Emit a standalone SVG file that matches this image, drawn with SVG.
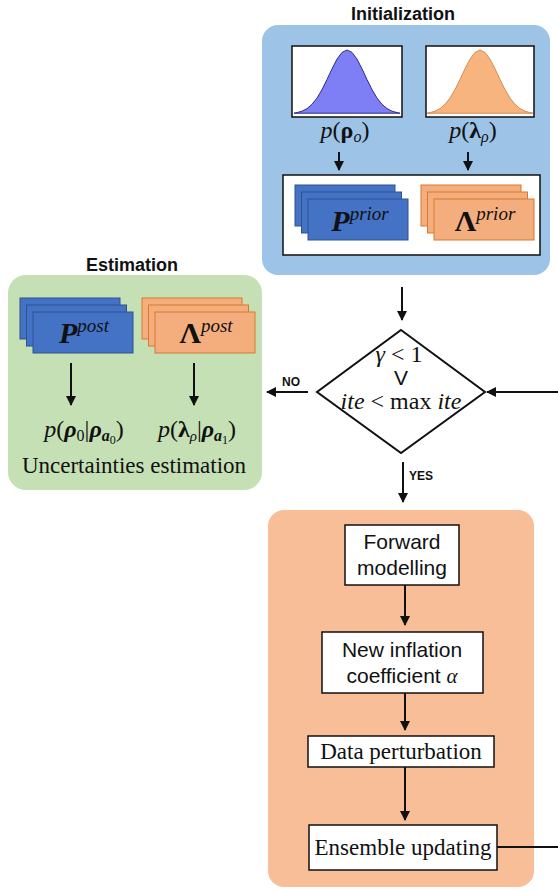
<svg xmlns="http://www.w3.org/2000/svg" width="558" height="891" viewBox="0 0 558 891">
<style>
.title{font-family:"Liberation Sans",Arial,sans-serif;font-weight:bold;font-size:18px;fill:#111;text-anchor:middle}
.lbl{font-family:"Liberation Sans",Arial,sans-serif;font-weight:bold;font-size:12px;fill:#111}
.sans{font-family:"Liberation Sans",Arial,sans-serif;font-size:21px;fill:#111;text-anchor:middle}
.serif{font-family:"Liberation Serif","Times New Roman",serif;font-size:23px;fill:#111;text-anchor:middle}
.math{font-family:"Liberation Serif","Times New Roman",serif;font-size:24px;fill:#111;text-anchor:middle}
.it{font-style:italic}
.bd{font-weight:bold}
.box{fill:#fff;stroke:#111;stroke-width:1.5}
.bcard{fill:#4472C4;stroke:#2F528F;stroke-width:1}
.ocard{fill:#F4AE7E;stroke:#D9782E;stroke-width:1}
.conn line,.conn polyline{stroke:#111;stroke-width:2;fill:none}
</style>
<defs>
<marker id="ah" viewBox="0 0 10 10" refX="9" refY="5" markerWidth="5" markerHeight="5" orient="auto" markerUnits="strokeWidth">
<path d="M0,0 L10,5 L0,10 Z" fill="#111"/>
</marker>
<path id="gauss" d="M-53,113.2 L-50,112.6 L-45,111.2 L-40,108.6 L-35,104.3 L-30,98.1 L-25,89.6 L-20,79.5 L-15,68.8 L-10,59.1 L-5,52.4 L0,50 L5,52.4 L10,59.1 L15,68.8 L20,79.5 L25,89.6 L30,98.1 L35,104.3 L40,108.6 L45,111.2 L50,112.6 L53,113.2 Z" stroke-linejoin="round"/>
<g id="stack-b">
<rect x="0" y="0" width="100" height="41" class="bcard"/>
<rect x="6.5" y="7" width="100" height="41" class="bcard"/>
<rect x="13" y="14" width="100" height="41" class="bcard"/>
</g>
<g id="stack-o">
<rect x="0" y="0" width="100" height="41" class="ocard"/>
<rect x="6.5" y="7" width="100" height="41" class="ocard"/>
<rect x="13" y="14" width="100" height="41" class="ocard"/>
</g>
</defs>

<g id="initialization">
<text class="title" x="403" y="20">Initialization</text>
<rect x="262" y="25" width="288" height="250" rx="16" fill="#9DC3E6"/>
<rect x="292" y="46" width="110" height="71" class="box"/>
<use href="#gauss" transform="translate(347,0)" fill="#7F7FF5" stroke="#2B2B8F" stroke-width="1"/>
<rect x="426" y="46" width="108" height="71" class="box"/>
<use href="#gauss" transform="translate(480,0)" fill="#F8B47F" stroke="#D98A4A" stroke-width="1"/>
<text class="math" x="345" y="138"><tspan class="it">p</tspan>(<tspan class="bd">ρ</tspan><tspan class="it" font-size="16" dy="4">o</tspan><tspan dy="-4">)</tspan></text>
<text class="math" x="473" y="138"><tspan class="it">p</tspan>(<tspan class="bd">λ</tspan><tspan class="it" font-size="16" dy="4">ρ</tspan><tspan dy="-4">)</tspan></text>
<line x1="339" y1="152" x2="339" y2="170" stroke="#111" stroke-width="2" marker-end="url(#ah)"/>
<line x1="468" y1="152" x2="468" y2="170" stroke="#111" stroke-width="2" marker-end="url(#ah)"/>
<rect x="283" y="175" width="257" height="80" class="box"/>
<use href="#stack-b" x="295" y="185"/>
<use href="#stack-o" x="421" y="185"/>
<text class="math" x="360" y="231"><tspan class="it bd" font-size="30">P</tspan><tspan class="it" font-size="19" dy="-11">prior</tspan></text>
<text class="math" x="485" y="231"><tspan class="bd" font-size="30">Λ</tspan><tspan class="it" font-size="19" dy="-11">prior</tspan></text>
</g>

<g id="estimation">
<text class="title" x="132" y="271">Estimation</text>
<rect x="8" y="275" width="254" height="215" rx="18" fill="#C5E0B4"/>
<use href="#stack-b" x="20" y="298"/>
<use href="#stack-o" x="142" y="298"/>
<text class="math" x="84" y="343"><tspan class="it bd" font-size="30">P</tspan><tspan class="it" font-size="19" dy="-11">post</tspan></text>
<text class="math" x="206" y="343"><tspan class="bd" font-size="30">Λ</tspan><tspan class="it" font-size="19" dy="-11">post</tspan></text>
<line x1="71" y1="363" x2="71" y2="405" stroke="#111" stroke-width="2" marker-end="url(#ah)"/>
<line x1="194" y1="363" x2="194" y2="405" stroke="#111" stroke-width="2" marker-end="url(#ah)"/>
<text class="math" x="84" y="437" font-size="23"><tspan class="it">p</tspan>(<tspan class="it bd">ρ</tspan><tspan font-size="16" dy="4">0</tspan><tspan dy="-4">|</tspan><tspan class="it bd">ρ</tspan><tspan class="it bd" font-size="16" dy="4">a</tspan><tspan font-size="12" dy="3">0</tspan><tspan dy="-7">)</tspan></text>
<text class="math" x="197" y="437" font-size="23"><tspan class="it">p</tspan>(<tspan class="bd">λ</tspan><tspan class="it" font-size="15" dy="4">ρ</tspan><tspan dy="-4">|</tspan><tspan class="it bd">ρ</tspan><tspan class="it bd" font-size="16" dy="4">a</tspan><tspan font-size="12" dy="3">1</tspan><tspan dy="-7">)</tspan></text>
<text class="serif" x="134" y="473">Uncertainties estimation</text>
</g>

<g id="decision">
<polygon points="401,330 485,392 401,453 317,392" fill="#fff" stroke="#111" stroke-width="2"/>
<text class="math" x="399" y="362" font-size="22"><tspan class="it">γ</tspan> &lt; 1</text>
<text class="sans" x="401" y="385" font-size="17">V</text>
<text class="math" x="401" y="409" font-size="22"><tspan class="it">ite</tspan> &lt; max <tspan class="it">ite</tspan></text>
</g>

<g id="loop">
<rect x="268" y="510" width="266" height="377" rx="16" fill="#F8BE97"/>
</g>
<g id="forward">
<rect x="345" y="525" width="114" height="60" class="box"/>
<text class="sans" x="402" y="549">Forward</text>
<text class="sans" x="402" y="575">modelling</text>
</g>
<g id="inflation">
<rect x="322" y="632" width="161" height="61" class="box"/>
<text class="sans" x="402" y="657">New inflation</text>
<text class="sans" x="402" y="683">coefficient <tspan font-family="Liberation Serif,serif" font-style="italic">α</tspan></text>
</g>
<g id="perturbation">
<rect x="308" y="736" width="186" height="31" class="box"/>
<text class="serif" x="401" y="759">Data perturbation</text>
</g>
<g id="updating">
<rect x="309" y="825" width="188" height="45" class="box"/>
<text class="serif" x="403" y="855">Ensemble updating</text>
</g>

<g class="conn" id="connectors">
<line x1="402" y1="287" x2="402" y2="320" marker-end="url(#ah)"/>
<line x1="308" y1="392" x2="267" y2="392" marker-end="url(#ah)"/>
<line x1="558" y1="392" x2="487" y2="392" marker-end="url(#ah)"/>
<line x1="403" y1="462" x2="403" y2="502" marker-end="url(#ah)"/>
<line x1="405" y1="585" x2="405" y2="625" marker-end="url(#ah)"/>
<line x1="405" y1="693" x2="405" y2="730" marker-end="url(#ah)"/>
<line x1="405" y1="767" x2="405" y2="820" marker-end="url(#ah)"/>
<line x1="497" y1="847" x2="558" y2="847"/>
<text class="lbl" x="282" y="386">NO</text>
<text class="lbl" x="409" y="480">YES</text>
</g>
</svg>
